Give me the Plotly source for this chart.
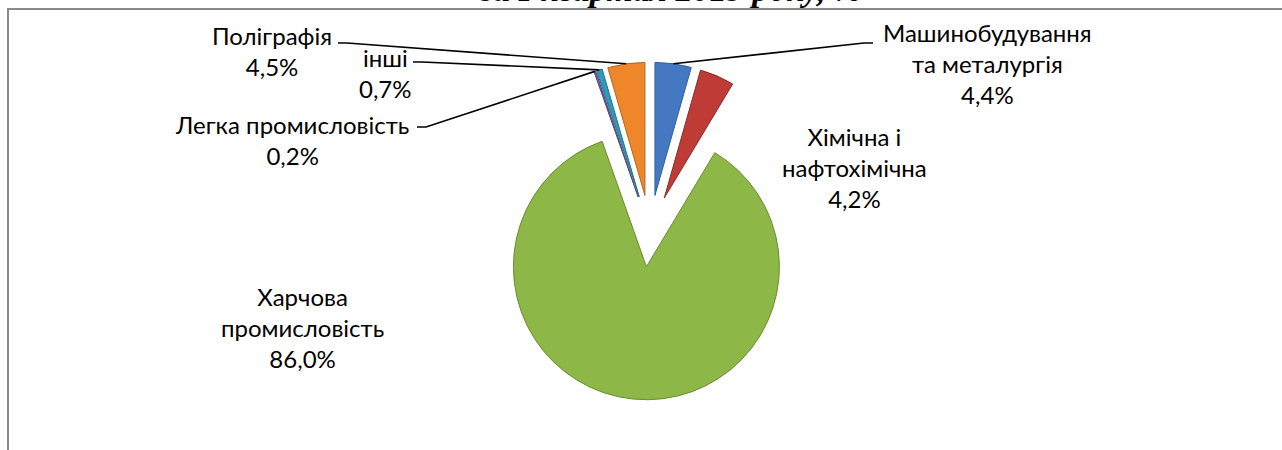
import math
import plotly.graph_objects as go

# ---------------- data ----------------
categories = ["Машинобудування<br>та металургія", "Хімічна і<br>нафтохімічна",
              "Харчова<br>промисловість", "Легка промисловість", "інші", "Поліграфія"]
values = [4.4, 4.2, 86.0, 0.2, 0.7, 4.5]
value_labels = ["4,4%", "4,2%", "86,0%", "0,2%", "0,7%", "4,5%"]
colors = ["#4479C2", "#BE3B36", "#8DB746", "#7D60A0", "#3199BA", "#F0862A"]
edge_colors = ["#2F5F9E", "#8E2B27", "#6A8C30", "#5A437A", "#24738E", "#B8631A"]
pulls = [0.27, 0.27, 0.27, 0.27, 0.27, 0.27]
title_text = "за I квартал 2019 року, %"

# ---------------- layout (pixels) ----------------
W, H = 1282, 450
pie_cx, pie_cy, pie_r = 650, 231, 133
# label centres (pixels) and leader-line anchors (None = no leader line)
label_pos = [(987, 63), (854, 168), (302, 327), (292, 140), (385, 73), (272, 51)]
leader_start = [(873, 43), None, None, (417, 127), (413, 62), (338, 43)]
leader_dir = [-1, 0, 0, 1, 1, 1]

max_pull = max(pulls)
box = 2 * pie_r * (1 + max_pull)
domain_x = [(pie_cx - box / 2) / W, (pie_cx + box / 2) / W]
domain_y = [1 - (pie_cy + box / 2) / H, 1 - (pie_cy - box / 2) / H]


def px(x):
    return x / W


def py(y):
    return 1 - y / H


fig = go.Figure()
fig.add_trace(go.Pie(
    labels=[c.replace("<br>", " ") for c in categories],
    values=values,
    sort=False,
    direction="clockwise",
    rotation=0,
    pull=pulls,
    textinfo="none",
    marker=dict(colors=colors, line=dict(color=edge_colors, width=1)),
    domain=dict(x=domain_x, y=domain_y),
    showlegend=False,
))

# slice outer-arc midpoints, derived from the values
total = sum(values)
cum = 0.0
tips = []
for v, p in zip(values, pulls):
    ang = math.radians(360 * (cum + v / 2) / total)
    rr = pie_r * (1 + p)
    tips.append((pie_cx + rr * math.sin(ang), pie_cy - rr * math.cos(ang)))
    cum += v

annotations = []
shapes = []
font_lbl = dict(family="Lato", size=24, color="#000000")
for cat, vl, (lx, ly), st, d, tip in zip(categories, value_labels, label_pos,
                                          leader_start, leader_dir, tips):
    annotations.append(dict(x=px(lx), y=py(ly), xref="paper", yref="paper",
                            text=cat + "<br>" + vl, showarrow=False,
                            xanchor="center", yanchor="middle",
                            align="center", font=font_lbl))
    if st is not None:
        sx, sy = st
        mx = sx + d * 9
        path = "M {:.5f},{:.5f} L {:.5f},{:.5f} L {:.5f},{:.5f}".format(
            px(sx), py(sy), px(mx), py(sy), px(tip[0]), py(tip[1]))
        shapes.append(dict(type="path", xref="paper", yref="paper", path=path,
                           line=dict(color="#000000", width=1.6)))

# title (only its lower part is visible)
annotations.append(dict(x=px(670), y=py(10.5), xref="paper", yref="paper",
                        text=title_text, showarrow=False,
                        xanchor="center", yanchor="bottom",
                        font=dict(family="Liberation Serif", size=34, color="#000000",
                                  weight="bold", style="italic")))

# chart frame
shapes.append(dict(type="rect", xref="paper", yref="paper",
                   x0=px(8), x1=px(W + 20), y0=py(H + 20), y1=py(9),
                   line=dict(color="#8A8A8A", width=2), layer="below"))

fig.update_layout(
    width=W, height=H,
    margin=dict(l=0, r=0, t=0, b=0),
    paper_bgcolor="#FFFFFF",
    plot_bgcolor="#FFFFFF",
    annotations=annotations,
    shapes=shapes,
)

fig.write_html("out.html", config={"displayModeBar": False},
               post_script="document.body.style.margin='0';document.body.style.overflow='hidden';")
